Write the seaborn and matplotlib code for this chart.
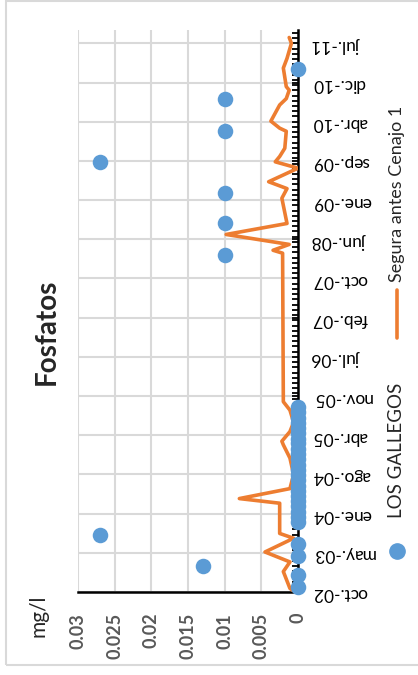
import pandas as pd
import numpy as np
import matplotlib
matplotlib.use("Agg")
import matplotlib.pyplot as plt
import matplotlib.dates as mdates
from matplotlib.lines import Line2D
from matplotlib.patches import Rectangle
import seaborn as sns

# LOS GALLEGOS (points)
gallegos_dates = ['2002-10-30', '2003-01-08', '2003-03-01', '2003-04-28', '2003-07-06', '2003-08-28',
                  '2003-11-12', '2003-12-12', '2004-01-12', '2004-02-12', '2004-03-12', '2004-04-12',
                  '2004-05-12', '2004-06-12', '2004-07-12', '2004-08-12', '2004-09-12', '2004-10-12',
                  '2004-11-12', '2004-12-12', '2005-01-12', '2005-02-12', '2005-03-12', '2005-04-12',
                  '2005-05-12', '2005-06-12', '2005-07-12', '2005-08-12', '2005-09-12',
                  '2008-02-15', '2008-08-18', '2009-02-10', '2009-08-10', '2010-02-06', '2010-08-10',
                  '2011-02-01']
gallegos_vals = [0, 0, 0.013, 0, 0, 0.027,
                 0, 0, 0, 0, 0, 0,
                 0, 0, 0, 0, 0, 0,
                 0, 0, 0, 0, 0, 0,
                 0, 0, 0, 0, 0,
                 0.01, 0.01, 0.01, 0.027, 0.01, 0.01,
                 0]

# Segura antes Cenajo 1 (line)
segura_dates = ['2002-10-01', '2002-10-22', '2003-01-28', '2003-03-25', '2003-05-22', '2003-08-10',
                '2003-09-07', '2004-03-01', '2004-03-28', '2004-05-25', '2004-08-15', '2004-11-19',
                '2005-02-04', '2005-02-25', '2005-04-22', '2005-06-15', '2005-08-25', '2005-10-13',
                '2008-02-25', '2008-03-13', '2008-04-16', '2008-06-13', '2008-08-16', '2009-01-10',
                '2009-03-07', '2009-04-16', '2009-07-04', '2009-08-10', '2009-09-10', '2009-10-28',
                '2010-02-04', '2010-02-22', '2010-04-04', '2010-07-07', '2010-08-13', '2010-10-01',
                '2010-10-22', '2011-02-07', '2011-04-04', '2011-07-01', '2011-08-04']
segura_vals = [0.0004, 0.0011, 0.002, 0.0011, 0.0045, 0.0006,
               0.0025, 0.0025, 0.008, 0.0011, 0.0006, 0.0011,
               0.002, 0.0022, 0.0011, 0.0006, 0.0011, 0.002,
               0.0021, 0.0034, 0.0012, 0.0098, 0.0015, 0.0022,
               0.0015, 0.004, 0.0, 0.0031, 0.0025, 0.0018,
               0.0016, 0.0025, 0.0037, 0.0025, 0.0016, 0.0012,
               0.0016, 0.002, 0.0015, 0.0009, 0.0012]

date_labels = ['oct.-02', 'may.-03', 'ene.-04', 'ago.-04', 'abr.-05', 'nov.-05', 'jul.-06', 'feb.-07',
               'oct.-07', 'jun.-08', 'ene.-09', 'sep.-09', 'abr.-10', 'dic.-10', 'jul.-11']
value_ticks = [0, 0.005, 0.01, 0.015, 0.02, 0.025, 0.03]

gallegos = pd.DataFrame({'date': pd.to_datetime(gallegos_dates), 'value': gallegos_vals})
segura = pd.DataFrame({'date': pd.to_datetime(segura_dates), 'value': segura_vals})

sns.set_style('white')
plt.rcParams['font.family'] = ['Lato', 'DejaVu Sans']

BLUE = '#5B9BD5'
ORANGE = '#ED7D31'
W, H = 418, 675

fig = plt.figure(figsize=(W / 100, H / 100), dpi=100)
ax = fig.add_axes([78 / W, (H - 592) / H, (298 - 78) / W, (592 - 30) / H])

# chart is drawn turned a quarter turn: values run right-to-left, dates bottom-to-top
sns.lineplot(data=segura, x='value', y='date', sort=False, orient='y', estimator=None,
             color=ORANGE, lw=2.6, ax=ax, zorder=3)
sns.scatterplot(data=gallegos, x='value', y='date', color=BLUE, s=125, linewidth=0,
                ax=ax, zorder=4)
for coll in ax.collections:
    coll.set_clip_on(False)

start = mdates.date2num(pd.Timestamp('2002-10-01'))
end = mdates.date2num(pd.Timestamp('2011-07-01'))
step = (end - start) / (len(date_labels) - 1)
ax.set_ylim(start, start + 14.34 * step)
ax.set_xlim(0.03, 0)

ax.set_yticks([start + i * step for i in range(len(date_labels))])
ax.set_yticklabels(date_labels)
ax.set_yticks(np.arange(start, start + 14.34 * step, step / 7.5), minor=True)
ax.set_xticks(value_ticks)
ax.set_xticklabels(['0', '0.005', '0.01', '0.015', '0.02', '0.025', '0.03'])
ax.set_xticks(np.arange(0, 0.03001, 0.0005), minor=True)

ax.yaxis.tick_right()
ax.tick_params(axis='y', which='both', direction='in', length=4, width=1.3, color='black',
               labelrotation=180, pad=10, labelsize=12.5, labelcolor='black')
ax.tick_params(axis='x', which='both', direction='in', length=4, width=1.3, color='black',
               labelrotation=90, pad=15, labelsize=13, labelcolor='#595959')
for t in ax.get_xticklabels():
    t.set_fontweight('bold')

ax.set_xlabel('')
ax.set_ylabel('')
ax.grid(True, which='major', color='#d9d9d9', lw=1.5)
ax.set_axisbelow(True)
for side in ['top', 'left']:
    ax.spines[side].set_visible(False)
for side in ['right', 'bottom']:
    ax.spines[side].set_color('black')
    ax.spines[side].set_linewidth(1.8)

# chart frame, title, unit
fig.add_artist(Rectangle((5.5 / W, 10 / H), 1.0, (H - 10.5) / H, transform=fig.transFigure,
                         fill=False, edgecolor='#d9d9d9', lw=1.5))
fig.text(47 / W, 1 - 385 / H, 'Fosfatos', rotation=90, ha='center', va='bottom',
         fontsize=20, fontweight='bold')
fig.text(38 / W, 1 - 637 / H, 'mg/l', rotation=90, ha='center', va='bottom', fontsize=15)

# legend, turned like the chart
fig.add_artist(Line2D([397 / W], [1 - 551 / H], marker='o', ms=11, color=BLUE, lw=0,
                      transform=fig.transFigure))
fig.text(397 / W, 1 - 518 / H, 'LOS GALLEGOS', rotation=90, ha='center', va='bottom', fontsize=13.5)
fig.add_artist(Line2D([397 / W, 397 / W], [1 - 338 / H, 1 - 290 / H], color=ORANGE, lw=2.6,
                      transform=fig.transFigure))
fig.text(397 / W, 1 - 282 / H, 'Segura antes Cenajo 1', rotation=90, ha='center', va='bottom',
         fontsize=13)

fig.savefig('out.png', dpi=100)
